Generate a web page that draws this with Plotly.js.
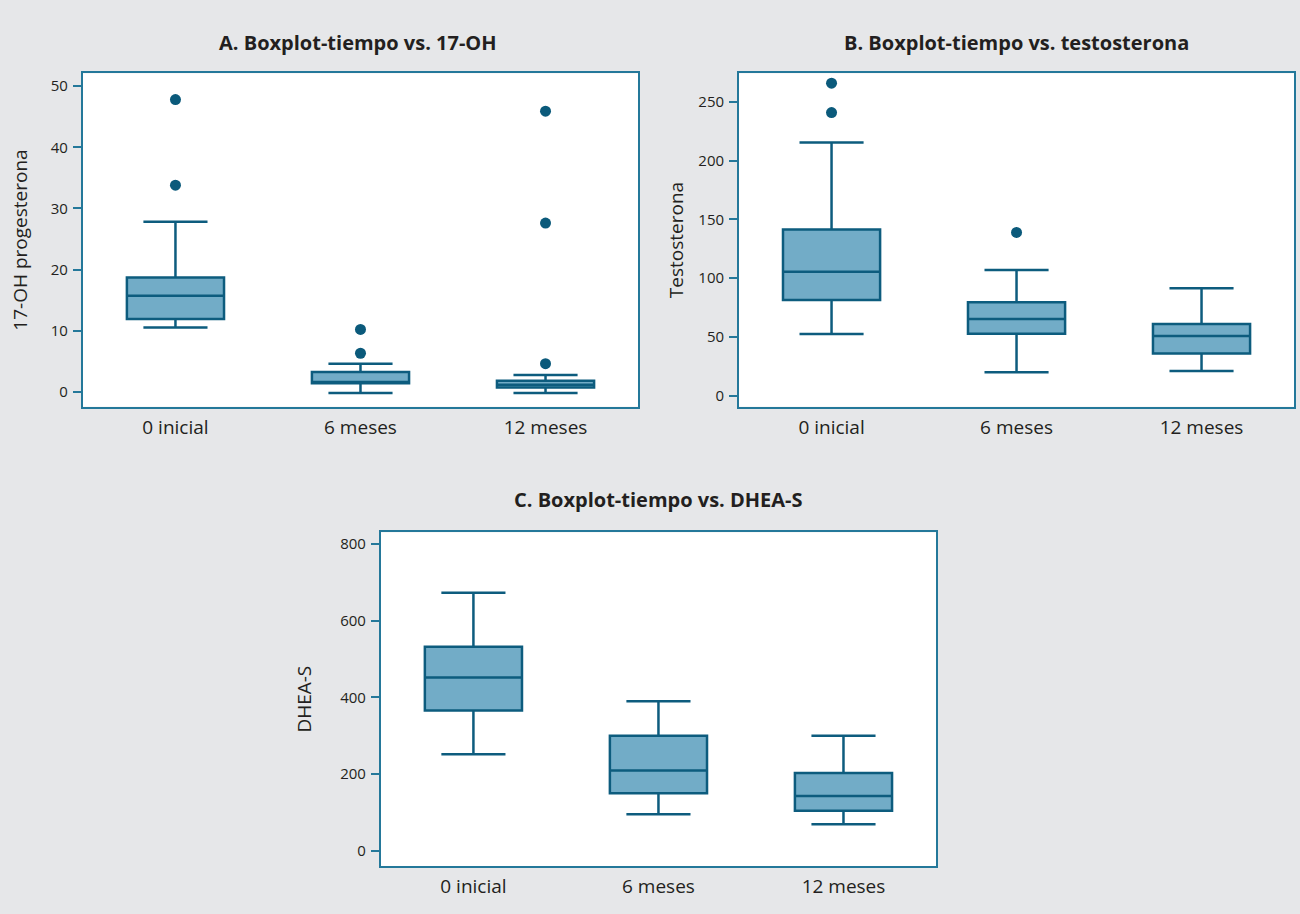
<!DOCTYPE html>
<html>
<head>
<meta charset="utf-8">
<script src="https://cdn.plot.ly/plotly-3.0.1.min.js"></script>
<style>
html,body{margin:0;padding:0;background:#e6e7e9;}
#chart{width:1300px;height:914px;}
</style>
</head>
<body>
<div id="chart"></div>
<script>
// Categories
const categories = ["0 inicial", "6 meses", "12 meses"];

// A. 17-OH progesterona
const ohLower  = [10.5, -0.2, -0.2];
const ohQ1     = [11.9, 1.4, 0.7];
const ohMedian = [15.7, 1.6, 1.15];
const ohQ3     = [18.7, 3.25, 1.8];
const ohUpper  = [27.8, 4.6, 2.75];
const ohOutX   = ["0 inicial", "0 inicial", "6 meses", "6 meses", "12 meses", "12 meses", "12 meses"];
const ohOutY   = [47.8, 33.8, 10.2, 6.3, 45.9, 27.6, 4.6];

// B. Testosterona
const teLower  = [52.5, 20, 21];
const teQ1     = [81.5, 52.8, 35.8];
const teMedian = [105.5, 65.3, 50.8];
const teQ3     = [141.5, 79.5, 61];
const teUpper  = [215.5, 107, 91.5];
const teOutX   = ["0 inicial", "0 inicial", "6 meses"];
const teOutY   = [266, 241, 139];

// C. DHEA-S
const dhLower  = [252, 95, 69];
const dhQ1     = [366, 150, 104];
const dhMedian = [452, 209, 143];
const dhQ3     = [532, 300, 203];
const dhUpper  = [673, 390, 300];

// Titles
const titles = ["A. Boxplot-tiempo vs. 17-OH", "B. Boxplot-tiempo vs. testosterona", "C. Boxplot-tiempo vs. DHEA-S"];
const yTitles = ["17-OH progesterona", "Testosterona", "DHEA-S"];

const boxFill = "#72acc7";
const boxLine = "#0d5c7e";
const frameColor = "#24789a";
const textColor = "#231f20";
const FONT = "Open Sans, Noto Sans, sans-serif";

function boxTrace(lo, q1, med, q3, up, xa, ya) {
  return {
    type: "box",
    x: categories,
    lowerfence: lo, q1: q1, median: med, q3: q3, upperfence: up,
    fillcolor: boxFill,
    line: {color: boxLine, width: 2.5},
    width: 0.525,
    whiskerwidth: 0.66,
    boxpoints: false,
    xaxis: xa, yaxis: ya,
    showlegend: false,
    hoverinfo: "y"
  };
}
function outTrace(xs, ys, xa, ya) {
  return {
    type: "scatter", mode: "markers",
    x: xs, y: ys,
    marker: {color: "#0b5a7b", size: 11},
    xaxis: xa, yaxis: ya, showlegend: false
  };
}

const data = [
  boxTrace(ohLower, ohQ1, ohMedian, ohQ3, ohUpper, "x", "y"),
  outTrace(ohOutX, ohOutY, "x", "y"),
  boxTrace(teLower, teQ1, teMedian, teQ3, teUpper, "x2", "y2"),
  outTrace(teOutX, teOutY, "x2", "y2"),
  boxTrace(dhLower, dhQ1, dhMedian, dhQ3, dhUpper, "x3", "y3")
];

function xAxis(domain, anchor) {
  return {
    domain: domain, anchor: anchor,
    type: "category", categoryorder: "array", categoryarray: categories,
    range: [-0.5, 2.5],
    showline: true, mirror: true, linecolor: frameColor, linewidth: 2,
    ticks: "", showgrid: false, zeroline: false,
    tickfont: {family: FONT, size: 19, color: textColor},
    ticklabelstandoff: 2,
    fixedrange: true
  };
}
function yAxis(domain, anchor, range, dtick, title, standoff) {
  return {
    domain: domain, anchor: anchor,
    range: range, dtick: dtick, tick0: 0,
    showline: true, mirror: true, linecolor: frameColor, linewidth: 2,
    ticks: "outside", ticklen: 8, tickwidth: 2, tickcolor: frameColor,
    showgrid: false, zeroline: false,
    tickfont: {family: FONT, size: 15, color: textColor},
    ticklabelstandoff: 2,
    title: {text: title, font: {family: FONT, size: 19, color: textColor}, standoff: standoff},
    fixedrange: true
  };
}

const layout = {
  width: 1300, height: 914,
  margin: {l: 0, r: 0, t: 0, b: 0},
  paper_bgcolor: "#e6e7e9",
  plot_bgcolor: "#ffffff",
  showlegend: false,
  xaxis:  xAxis([0.0638, 0.4908], "y"),
  yaxis:  yAxis([0.555, 0.9198], "x", [-2.45, 52.1], 10, yTitles[0], 18),
  xaxis2: xAxis([0.5685, 0.9954], "y2"),
  yaxis2: yAxis([0.555, 0.9198], "x2", [-9.4, 274.4], 50, yTitles[1], 10),
  xaxis3: xAxis([0.293, 0.72], "y3"),
  yaxis3: yAxis([0.0525, 0.4176], "x3", [-40, 831], 200, yTitles[2], 24),
  annotations: [
    {text: "<b>" + titles[0] + "</b>", xref: "paper", yref: "paper", x: 0.2755, y: 1 - 43/914, xanchor: "center", yanchor: "middle", showarrow: false, font: {family: FONT, size: 20, color: textColor}},
    {text: "<b>" + titles[1] + "</b>", xref: "paper", yref: "paper", x: 0.782, y: 1 - 43/914, xanchor: "center", yanchor: "middle", showarrow: false, font: {family: FONT, size: 20, color: textColor}},
    {text: "<b>" + titles[2] + "</b>", xref: "paper", yref: "paper", x: 0.5065, y: 1 - 500/914, xanchor: "center", yanchor: "middle", showarrow: false, font: {family: FONT, size: 20, color: textColor}}
  ]
};

Plotly.newPlot("chart", data, layout, {displayModeBar: false});
</script>
</body>
</html>
